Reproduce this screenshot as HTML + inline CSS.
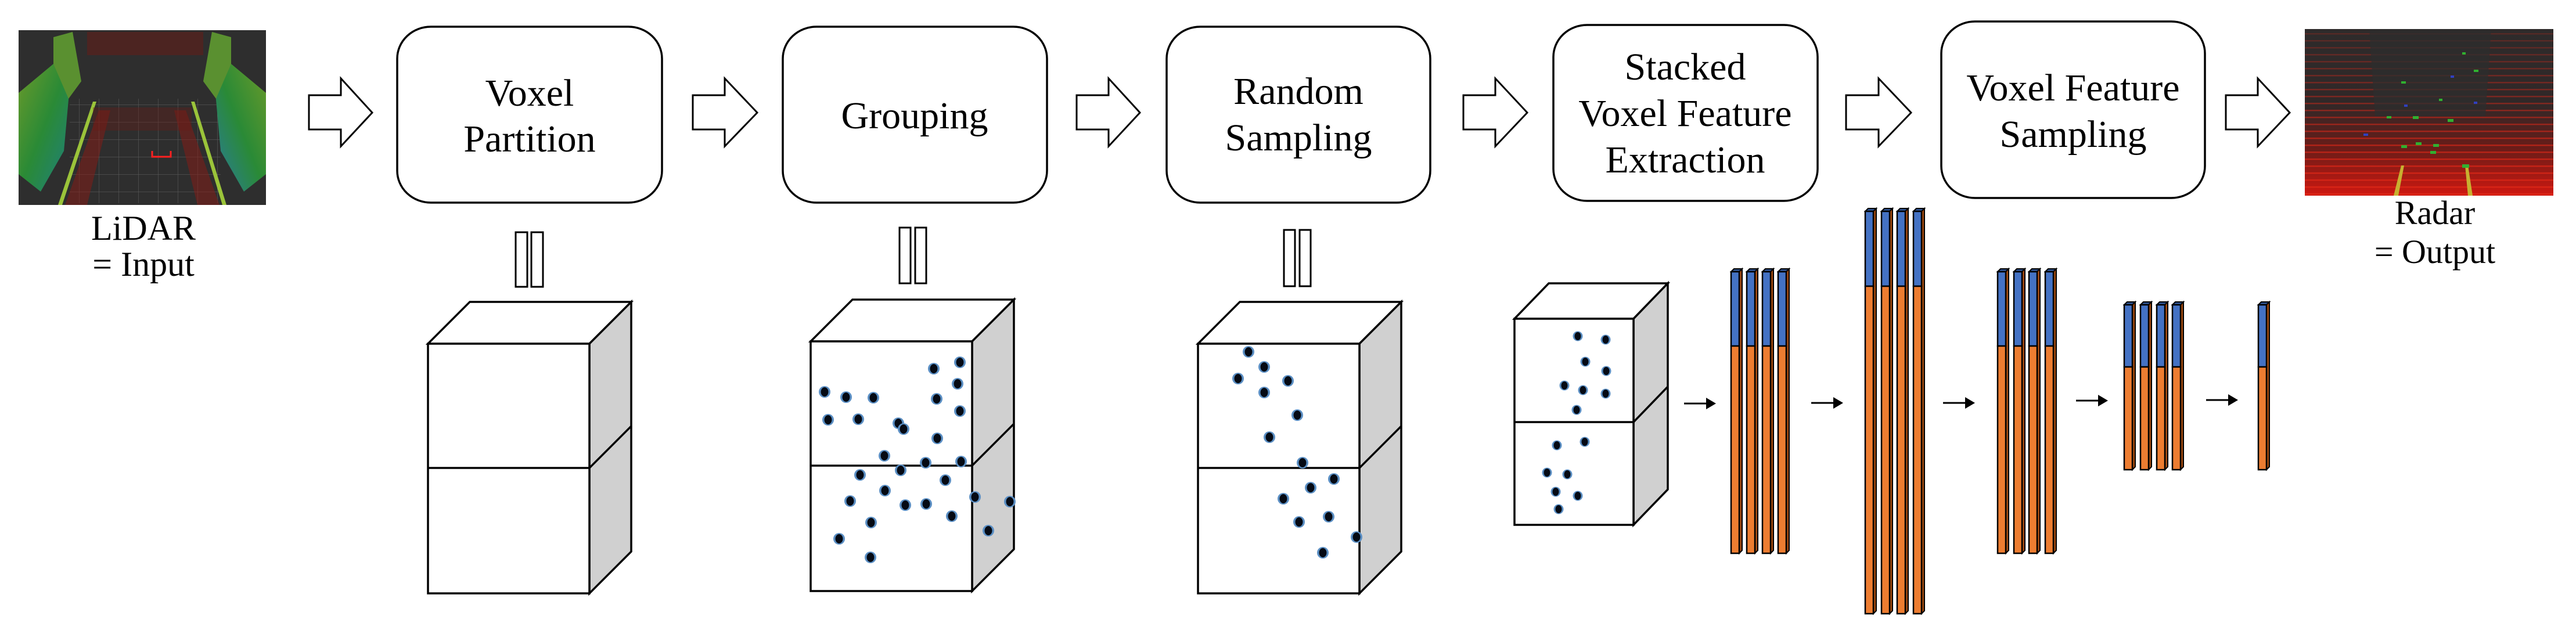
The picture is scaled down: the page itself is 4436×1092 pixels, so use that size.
<!DOCTYPE html>
<html><head><meta charset="utf-8"><style>
html,body{margin:0;padding:0;background:#fff;}
svg{display:block;}
svg text{font-family:"Liberation Serif","Noto Serif CJK SC","DejaVu Serif",serif;fill:#000;}
</style></head><body>
<svg width="4436" height="1092" viewBox="0 0 4436 1092" xmlns="http://www.w3.org/2000/svg" font-family="Liberation Serif, Noto Serif CJK SC, DejaVu Serif, serif">
<defs>
<linearGradient id="wallL" x1="0" y1="0" x2="1" y2="1"><stop offset="0" stop-color="#6a9a2a"/><stop offset="0.5" stop-color="#2a8a36"/><stop offset="1" stop-color="#1f7f80"/></linearGradient>
<linearGradient id="wallR" x1="1" y1="0" x2="0" y2="1"><stop offset="0" stop-color="#6a9a2a"/><stop offset="0.5" stop-color="#2a8a36"/><stop offset="1" stop-color="#2a7aa0"/></linearGradient>
<linearGradient id="radarG" x1="0" y1="0" x2="0" y2="1"><stop offset="0" stop-color="#2e2b2b"/><stop offset="0.45" stop-color="#302828"/><stop offset="0.72" stop-color="#6a1c18"/><stop offset="1" stop-color="#d01810"/></linearGradient>
<linearGradient id="rlineFade" x1="0" y1="0" x2="0" y2="1"><stop offset="0" stop-color="#fff" stop-opacity="0.25"/><stop offset="0.5" stop-color="#fff" stop-opacity="0.6"/><stop offset="1" stop-color="#fff" stop-opacity="1"/></linearGradient>
<mask id="rmask"><rect x="3969" y="50" width="428" height="287" fill="url(#rlineFade)"/></mask>
<pattern id="rlines" width="20" height="12" patternUnits="userSpaceOnUse"><rect width="20" height="2.5" y="9" fill="#e02818"/></pattern>
<pattern id="grid" width="34" height="30" patternUnits="userSpaceOnUse"><path d="M0 0H34M0 0V30" stroke="#666" stroke-width="1.2" fill="none"/></pattern>
<g id="bar1"><polygon points="0,468 5,463 19,463 14,468" fill="#2f528f" stroke="#000" stroke-width="2"/><polygon points="14,468 19,463 19,948 14,953" fill="#a04a10" stroke="#000" stroke-width="2"/><rect x="0" y="468" width="14" height="128" fill="#4472c4" stroke="#000" stroke-width="2.5"/><rect x="0" y="596" width="14" height="357" fill="#ed7d31" stroke="#000" stroke-width="2.5"/></g>
<g id="bar2"><polygon points="0,364 5,359 19,359 14,364" fill="#2f528f" stroke="#000" stroke-width="2"/><polygon points="14,364 19,359 19,1052 14,1057" fill="#a04a10" stroke="#000" stroke-width="2"/><rect x="0" y="364" width="14" height="129" fill="#4472c4" stroke="#000" stroke-width="2.5"/><rect x="0" y="493" width="14" height="564" fill="#ed7d31" stroke="#000" stroke-width="2.5"/></g>
<g id="bar4"><polygon points="0,525 5,520 19,520 14,525" fill="#2f528f" stroke="#000" stroke-width="2"/><polygon points="14,525 19,520 19,804 14,809" fill="#a04a10" stroke="#000" stroke-width="2"/><rect x="0" y="525" width="14" height="107" fill="#4472c4" stroke="#000" stroke-width="2.5"/><rect x="0" y="632" width="14" height="177" fill="#ed7d31" stroke="#000" stroke-width="2.5"/></g>
<g id="dot"><circle r="10" fill="#5b8fc4"/><ellipse rx="6.5" ry="8" fill="#050a14"/></g>
<g id="dots"><circle r="8.5" fill="#5b8fc4"/><ellipse rx="5.5" ry="7" fill="#050a14"/></g>
</defs>

<!-- LiDAR image -->
<g>
<rect x="32" y="52" width="426" height="301" fill="#2e2e2e"/>
<rect x="120" y="170" width="260" height="180" fill="url(#grid)" opacity="0.8"/>
<polygon points="32,160 92,110 120,150 110,260 70,330 32,300" fill="url(#wallL)"/>
<polygon points="92,64 125,55 140,140 118,170 92,110" fill="#5a9030"/>
<polygon points="458,160 398,110 370,150 380,260 420,330 458,300" fill="url(#wallR)"/>
<polygon points="398,64 365,55 350,140 372,170 398,110" fill="#5a9030"/>
<polygon points="100,353 160,175 166,175 107,353" fill="#9bc43a"/>
<polygon points="390,353 335,175 329,175 383,353" fill="#9bc43a"/>
<polygon points="112,353 170,190 190,190 150,353" fill="#8a1a14" opacity="0.5"/>
<polygon points="378,353 320,190 300,190 340,353" fill="#8a1a14" opacity="0.5"/>
<rect x="150" y="55" width="200" height="40" fill="#6a1a14" opacity="0.5"/>
<rect x="160" y="185" width="170" height="40" fill="#6a1a14" opacity="0.35"/>
<path d="M262 260v10h32v-10" stroke="#ff2020" stroke-width="3" fill="none"/>
</g>
<text x="247" y="413" font-size="60" text-anchor="middle">LiDAR</text>
<text x="247" y="475" font-size="60" text-anchor="middle">= Input</text>

<!-- Radar image -->
<g>
<rect x="3969" y="50" width="428" height="287" fill="url(#radarG)"/>
<rect x="3969" y="50" width="428" height="287" fill="url(#rlines)" mask="url(#rmask)" opacity="0.8"/>
<polygon points="4080,50 4290,50 4280,200 4090,200" fill="#2e2e2e" opacity="0.75"/>
<polygon points="4122,337 4135,285 4140,285 4130,337" fill="#c8b030"/>
<polygon points="4250,337 4245,285 4250,285 4258,337" fill="#c8b030"/>
<g fill="#30b030"><rect x="4135" y="250" width="10" height="5"/><rect x="4160" y="245" width="10" height="5"/><rect x="4190" y="248" width="10" height="5"/><rect x="4155" y="200" width="10" height="5"/><rect x="4215" y="205" width="10" height="5"/><rect x="4240" y="283" width="12" height="6"/><rect x="4185" y="260" width="10" height="5"/><rect x="4110" y="200" width="8" height="4"/><rect x="4260" y="120" width="8" height="4"/><rect x="4135" y="140" width="8" height="4"/><rect x="4200" y="170" width="6" height="4"/><rect x="4240" y="90" width="6" height="4"/></g>
<g fill="#3040c0"><rect x="4140" y="180" width="6" height="4"/><rect x="4220" y="130" width="6" height="4"/><rect x="4260" y="175" width="6" height="4"/><rect x="4070" y="230" width="8" height="4"/></g>
</g>
<text x="4193" y="386" font-size="58" text-anchor="middle">Radar</text>
<text x="4193" y="453" font-size="58" text-anchor="middle">= Output</text>

<!-- Block arrows -->
<g fill="#fff" stroke="#000" stroke-width="3" stroke-linejoin="miter">
<polygon points="532,164 587,164 587,135 641,194 587,252 587,223 532,223"/>
<polygon points="1193,164 1248,164 1248,135 1304,194 1248,252 1248,223 1193,223"/>
<polygon points="1854,164 1909,164 1909,135 1963,194 1909,252 1909,223 1854,223"/>
<polygon points="2520,164 2575,164 2575,135 2630,194 2575,252 2575,223 2520,223"/>
<polygon points="3179,164 3235,164 3235,135 3291,194 3235,252 3235,223 3179,223"/>
<polygon points="3833,164 3888,164 3888,135 3943,194 3888,252 3888,223 3833,223"/>
</g>

<!-- Boxes -->
<g fill="#fff" stroke="#000" stroke-width="3.5">
<rect x="684" y="46" width="456" height="303" rx="58" ry="55"/>
<rect x="1348" y="46" width="455" height="303" rx="58" ry="55"/>
<rect x="2009" y="46" width="454" height="303" rx="58" ry="55"/>
<rect x="2675" y="43" width="455" height="303" rx="58" ry="55"/>
<rect x="3343" y="37" width="454" height="304" rx="58" ry="55"/>
</g>
<g font-size="66" text-anchor="middle">
<text x="912" y="182">Voxel</text><text x="912" y="261">Partition</text>
<text x="1575" y="221">Grouping</text>
<text x="2236" y="179">Random</text><text x="2236" y="259">Sampling</text>
<text x="2902" y="137">Stacked</text><text x="2902" y="217">Voxel Feature</text><text x="2902" y="297">Extraction</text>
<text x="3570" y="173">Voxel Feature</text><text x="3570" y="253">Sampling</text>
</g>

<!-- equals marks -->
<g fill="#fff" stroke="#000" stroke-width="3">
<rect x="888" y="400" width="20" height="94"/><rect x="915" y="400" width="20" height="94"/>
<rect x="1549" y="392" width="19" height="96"/><rect x="1576" y="392" width="19" height="96"/>
<rect x="2211" y="396" width="19" height="97"/><rect x="2238" y="396" width="19" height="97"/>
</g>

<!-- Cubes -->
<g stroke="#000" stroke-width="3.5" stroke-linejoin="miter">
<g>
<polygon points="737,592 809,520 1087,520 1015,592" fill="#fff"/>
<polygon points="1015,592 1087,520 1087,950 1015,1022" fill="#d0d0d0"/>
<rect x="737" y="592" width="278" height="430" fill="#fff"/>
<line x1="737" y1="806" x2="1015" y2="806"/><line x1="1015" y1="806" x2="1087" y2="734"/>
</g>
<g transform="translate(659,-4)">
<polygon points="737,592 809,520 1087,520 1015,592" fill="#fff"/>
<polygon points="1015,592 1087,520 1087,950 1015,1022" fill="#d0d0d0"/>
<rect x="737" y="592" width="278" height="430" fill="#fff"/>
<line x1="737" y1="806" x2="1015" y2="806"/><line x1="1015" y1="806" x2="1087" y2="734"/>
</g>
<g transform="translate(1326,0)">
<polygon points="737,592 809,520 1087,520 1015,592" fill="#fff"/>
<polygon points="1015,592 1087,520 1087,950 1015,1022" fill="#d0d0d0"/>
<rect x="737" y="592" width="278" height="430" fill="#fff"/>
<line x1="737" y1="806" x2="1015" y2="806"/><line x1="1015" y1="806" x2="1087" y2="734"/>
</g>
<polygon points="2608,549 2667,488 2872,488 2813,549" fill="#fff"/>
<polygon points="2813,549 2872,488 2872,843 2813,904" fill="#d0d0d0"/>
<rect x="2608" y="549" width="205" height="355" fill="#fff"/>
<line x1="2608" y1="727" x2="2813" y2="727"/><line x1="2813" y1="727" x2="2872" y2="666"/>
</g>

<!-- dots cube 2 -->
<g>
<use href="#dot" x="1608" y="635"/><use href="#dot" x="1653" y="624"/><use href="#dot" x="1649" y="661"/>
<use href="#dot" x="1420" y="675"/><use href="#dot" x="1457" y="684"/><use href="#dot" x="1504" y="685"/>
<use href="#dot" x="1613" y="687"/><use href="#dot" x="1653" y="708"/><use href="#dot" x="1426" y="723"/>
<use href="#dot" x="1478" y="722"/><use href="#dot" x="1547" y="729"/><use href="#dot" x="1556" y="739"/>
<use href="#dot" x="1614" y="755"/><use href="#dot" x="1523" y="785"/><use href="#dot" x="1594" y="797"/>
<use href="#dot" x="1655" y="795"/><use href="#dot" x="1551" y="810"/><use href="#dot" x="1481" y="818"/>
<use href="#dot" x="1628" y="827"/><use href="#dot" x="1524" y="845"/><use href="#dot" x="1464" y="863"/>
<use href="#dot" x="1559" y="870"/><use href="#dot" x="1595" y="868"/><use href="#dot" x="1679" y="856"/>
<use href="#dot" x="1739" y="864"/><use href="#dot" x="1639" y="889"/><use href="#dot" x="1500" y="900"/>
<use href="#dot" x="1702" y="914"/><use href="#dot" x="1445" y="928"/><use href="#dot" x="1499" y="960"/>
</g>
<!-- dots cube 3 -->
<g>
<use href="#dot" x="2150" y="606"/><use href="#dot" x="2177" y="632"/><use href="#dot" x="2132" y="652"/>
<use href="#dot" x="2218" y="656"/><use href="#dot" x="2177" y="676"/><use href="#dot" x="2234" y="715"/>
<use href="#dot" x="2186" y="753"/><use href="#dot" x="2243" y="797"/><use href="#dot" x="2297" y="825"/>
<use href="#dot" x="2257" y="840"/><use href="#dot" x="2210" y="859"/><use href="#dot" x="2288" y="890"/>
<use href="#dot" x="2237" y="899"/><use href="#dot" x="2336" y="925"/><use href="#dot" x="2278" y="952"/>
</g>
<!-- dots cube 4 -->
<g>
<use href="#dots" x="2717" y="579"/><use href="#dots" x="2765" y="585"/><use href="#dots" x="2730" y="623"/>
<use href="#dots" x="2766" y="639"/><use href="#dots" x="2694" y="664"/><use href="#dots" x="2726" y="672"/>
<use href="#dots" x="2765" y="678"/><use href="#dots" x="2715" y="706"/><use href="#dots" x="2681" y="767"/>
<use href="#dots" x="2729" y="761"/><use href="#dots" x="2664" y="814"/><use href="#dots" x="2699" y="817"/>
<use href="#dots" x="2679" y="847"/><use href="#dots" x="2717" y="854"/><use href="#dots" x="2684" y="877"/>
</g>

<!-- small arrows -->
<g stroke="#000" stroke-width="3" fill="#000">
<line x1="2900" y1="695" x2="2940" y2="695"/><polygon points="2938,685 2955,695 2938,705" stroke="none"/>
<line x1="3119" y1="694" x2="3159" y2="694"/><polygon points="3157,684 3174,694 3157,704" stroke="none"/>
<line x1="3346" y1="694" x2="3386" y2="694"/><polygon points="3384,684 3401,694 3384,704" stroke="none"/>
<line x1="3575" y1="690" x2="3615" y2="690"/><polygon points="3613,680 3630,690 3613,700" stroke="none"/>
<line x1="3799" y1="689" x2="3839" y2="689"/><polygon points="3837,679 3854,689 3837,699" stroke="none"/>
</g>

<!-- bars -->
<use href="#bar1" x="2981"/><use href="#bar1" x="3008"/><use href="#bar1" x="3035"/><use href="#bar1" x="3062"/>
<use href="#bar2" x="3212"/><use href="#bar2" x="3240"/><use href="#bar2" x="3267"/><use href="#bar2" x="3295"/>
<use href="#bar1" x="3440"/><use href="#bar1" x="3468"/><use href="#bar1" x="3494"/><use href="#bar1" x="3522"/>
<use href="#bar4" x="3658"/><use href="#bar4" x="3686"/><use href="#bar4" x="3714"/><use href="#bar4" x="3741"/>
<use href="#bar4" x="3889"/>
</svg>
</body></html>
